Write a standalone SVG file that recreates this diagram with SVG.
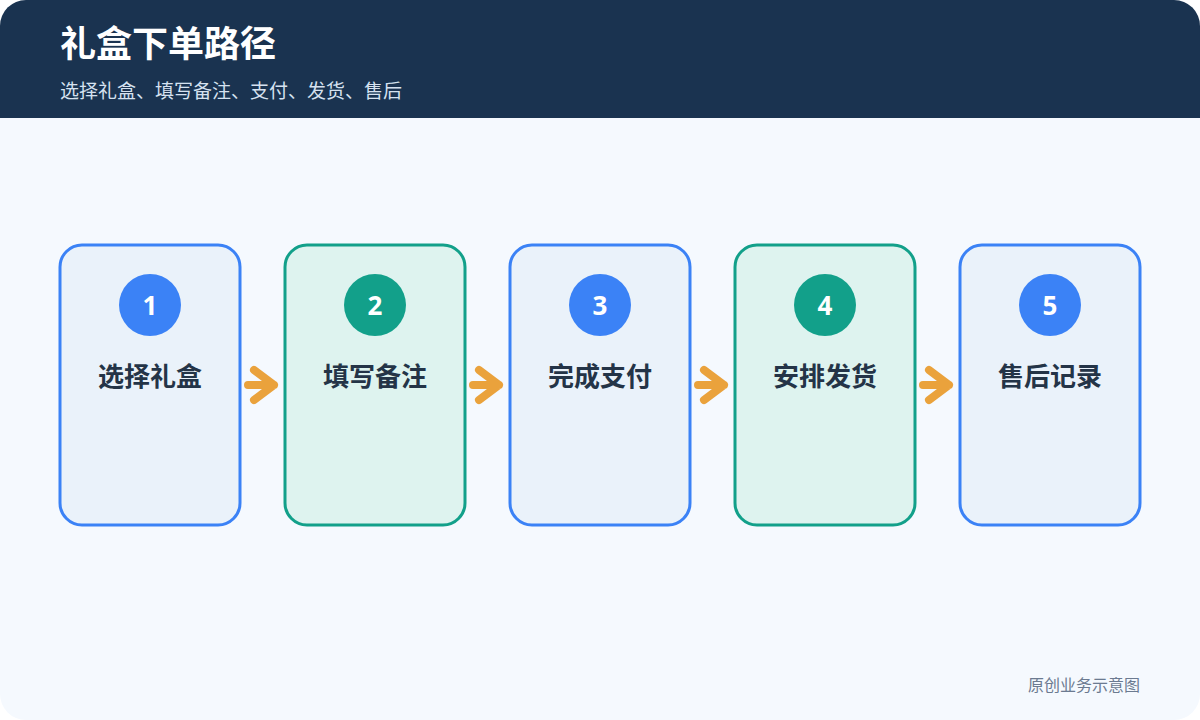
<svg xmlns="http://www.w3.org/2000/svg" width="1200" height="720" viewBox="0 0 1200 720">
<defs>
<clipPath id="page"><rect x="0" y="0" width="1200" height="720" rx="26"/></clipPath>
<style>
.title{font-family:"Noto Sans CJK SC","Noto Sans",sans-serif;font-weight:700;font-size:36px;fill:#ffffff}
.sub{font-family:"Noto Sans CJK SC","Noto Sans",sans-serif;font-size:19px;fill:#d6e2f0}
.foot{font-family:"Noto Sans CJK SC","Noto Sans",sans-serif;font-size:16px;fill:#6b7a90}
.card-b{fill:#eaf2fa;stroke:#3b82f6;stroke-width:3}
.card-g{fill:#def3ef;stroke:#12a08a;stroke-width:3}
.dot-b{fill:#3b82f6}
.dot-g{fill:#12a08a}
.num{font-family:"Noto Sans","Noto Sans CJK SC",sans-serif;font-weight:700;font-size:26px;fill:#ffffff;text-anchor:middle}
.label{font-family:"Noto Sans CJK SC","Noto Sans",sans-serif;font-weight:700;font-size:26px;fill:#243447;text-anchor:middle}
.arrow{fill:none;stroke:#eaa23c;stroke-width:8;stroke-linecap:round;stroke-linejoin:round}
</style>
</defs>
<g clip-path="url(#page)">
<rect x="0" y="0" width="1200" height="720" fill="#f5f9fe"/>
<rect x="0" y="0" width="1200" height="118" fill="#1a3350"/>
</g>
<text class="title" x="60" y="57">礼盒下单路径</text>
<text class="sub" x="60" y="98">选择礼盒、填写备注、支付、发货、售后</text>

<g id="connectors">
<path class="arrow" d="M248 385 H274 M254 370 L274 385 L254 400"/>
<path class="arrow" d="M473 385 H499 M479 370 L499 385 L479 400"/>
<path class="arrow" d="M698 385 H724 M704 370 L724 385 L704 400"/>
<path class="arrow" d="M923 385 H949 M929 370 L949 385 L929 400"/>
</g>

<g id="node1">
<rect class="card-b" x="60" y="245" width="180" height="280" rx="22"/>
<circle class="dot-b" cx="150" cy="305" r="31"/>
<text class="num" x="150" y="315">1</text>
<text class="label" x="150" y="386">选择礼盒</text>
</g>
<g id="node2">
<rect class="card-g" x="285" y="245" width="180" height="280" rx="22"/>
<circle class="dot-g" cx="375" cy="305" r="31"/>
<text class="num" x="375" y="315">2</text>
<text class="label" x="375" y="386">填写备注</text>
</g>
<g id="node3">
<rect class="card-b" x="510" y="245" width="180" height="280" rx="22"/>
<circle class="dot-b" cx="600" cy="305" r="31"/>
<text class="num" x="600" y="315">3</text>
<text class="label" x="600" y="386">完成支付</text>
</g>
<g id="node4">
<rect class="card-g" x="735" y="245" width="180" height="280" rx="22"/>
<circle class="dot-g" cx="825" cy="305" r="31"/>
<text class="num" x="825" y="315">4</text>
<text class="label" x="825" y="386">安排发货</text>
</g>
<g id="node5">
<rect class="card-b" x="960" y="245" width="180" height="280" rx="22"/>
<circle class="dot-b" cx="1050" cy="305" r="31"/>
<text class="num" x="1050" y="315">5</text>
<text class="label" x="1050" y="386">售后记录</text>
</g>

<text class="foot" x="1140" y="691" text-anchor="end">原创业务示意图</text>
</svg>
